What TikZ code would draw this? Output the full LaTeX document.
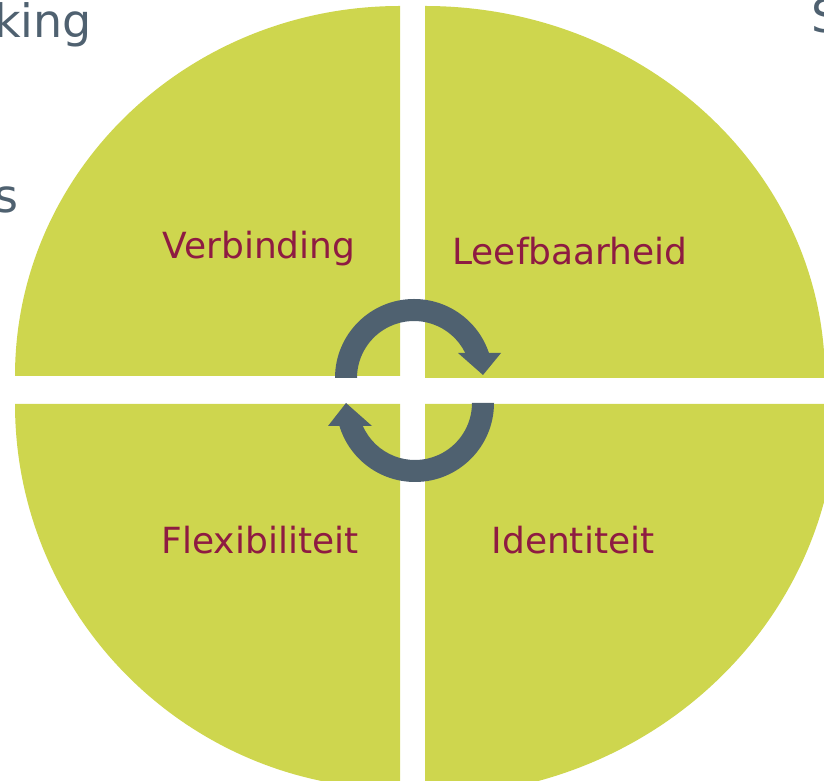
\documentclass[tikz,border=0pt]{standalone}
\usepackage{fontspec}
\setmainfont{DejaVu Sans}
\usepackage{tikz}
\usetikzlibrary{arrows.meta, positioning}

\definecolor{leaf}{RGB}{206,214,78}
\definecolor{berry}{RGB}{142,27,66}
\definecolor{slate}{RGB}{79,97,112}

\begin{document}
\begin{tikzpicture}[x=1pt, y=1pt,
		quad/.style={fill=leaf},
		cyc/.style={fill=slate},
		lbl/.style={text=berry, font=\fontsize{36}{40}\selectfont, anchor=base, inner sep=0pt},
		side/.style={text=slate, font=\fontsize{46}{50}\selectfont, anchor=base west, inner sep=0pt}]
		\useasboundingbox (0,0) rectangle (824,781);
		
		% quarters
		\fill[quad] (400,405) -- (15,405) arc[start angle=180, end angle=90, x radius=385, y radius=370] -- cycle;
		\fill[quad] (425,403) -- (425,775) arc[start angle=90, end angle=0, x radius=400, y radius=372] -- cycle;
		\fill[quad] (400,377) -- (15,377) arc[start angle=180, end angle=270, x radius=385, y radius=385] -- cycle;
		\fill[quad] (425,377) -- (837,377) arc[start angle=0, end angle=-90, x radius=412, y radius=392] -- cycle;
		
		% labels
		\node[lbl] (verb) at (259,522) {Verbinding};
		\node[lbl] (leef) at (570,516) {Leefbaarheid};
		\node[lbl] (flex) at (260,227) {Flexibiliteit};
		\node[lbl] (iden) at (573,227) {Identiteit};
		
		% cycle
		\coordinate (up) at (414,403);
		\coordinate (down) at (415,378);
		\fill[cyc] ([shift={(180:79)}]up) arc[start angle=180, end angle=18.4, radius=79]
			-- ([shift={(26:57)}]up) arc[start angle=26, end angle=180, radius=57] -- cycle;
		\fill[cyc] (458,428) -- (501,428) -- (483,406) -- cycle;
		\fill[cyc] ([shift={(0:79)}]down) arc[start angle=0, end angle=-163.1, radius=79]
			-- ([shift={(-156.2:57)}]down) arc[start angle=-156.2, end angle=0, radius=57] -- cycle;
		\fill[cyc] (328,355) -- (372,355) -- (346,378) -- cycle;
		
		% cut-off words
		\node[side] (king) at (-6,743) {king};
		\node[side] (s) at (-6,568) {s};
		\node[side] (S) at (811,748) {S};
\end{tikzpicture}
\end{document}
